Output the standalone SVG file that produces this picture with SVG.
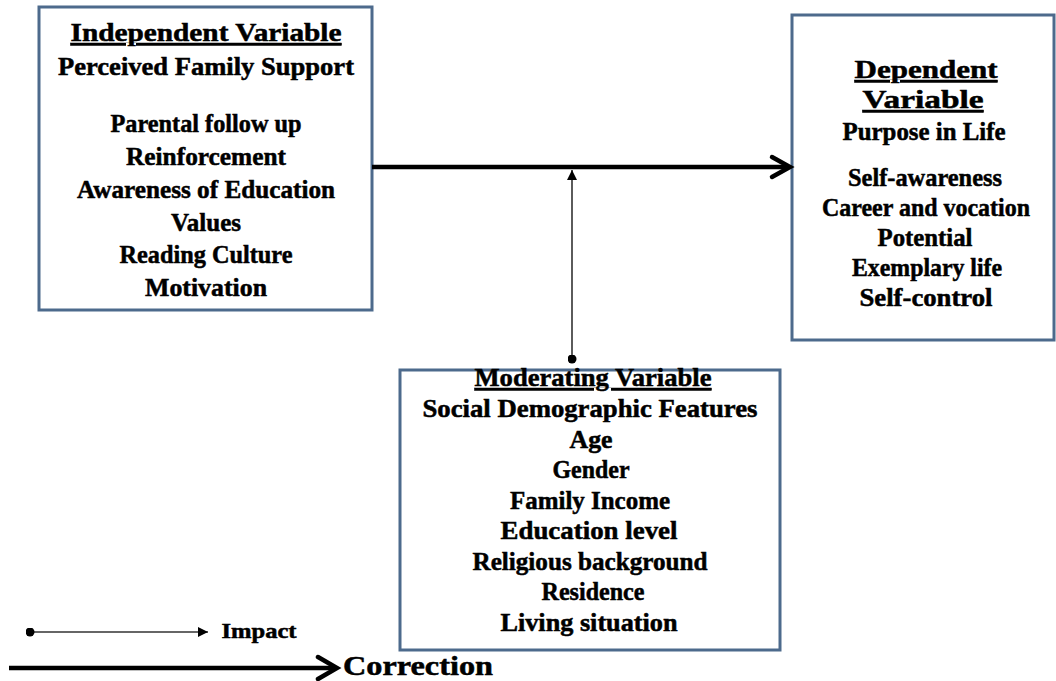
<svg xmlns="http://www.w3.org/2000/svg" width="1056" height="681" viewBox="0 0 1056 681">
<style>
.box{fill:#ffffff;stroke:#4d6a8c;stroke-width:3}
text{font-family:"Liberation Serif","Times New Roman",serif;font-weight:bold;font-size:25px;fill:#000;stroke:#000;stroke-width:0.5;text-anchor:middle}
.u{text-decoration:underline}
.thick{stroke:#000;stroke-width:4.5;fill:none}
.thin{stroke:#333;stroke-width:1.6;fill:none}
.chev{stroke:#000;stroke-width:4.5;fill:none;stroke-linecap:round;stroke-linejoin:miter}
</style>
<defs>
<marker id="tri" viewBox="0 0 10 10" refX="10" refY="5" markerWidth="10" markerHeight="10" markerUnits="userSpaceOnUse" orient="auto">
<path d="M0,0 L10,5 L0,10 Z" fill="#000"/>
</marker>
<marker id="dot" viewBox="0 0 10 10" refX="5" refY="5" markerWidth="9" markerHeight="9" markerUnits="userSpaceOnUse" orient="auto">
<circle cx="5" cy="5" r="5" fill="#000"/>
</marker>
</defs>
<rect width="1056" height="681" fill="#ffffff"/>

<g id="independent">
<rect class="box" x="39" y="7" width="333" height="303"/>
<text x="206" y="41" class="u" textLength="271" lengthAdjust="spacingAndGlyphs">Independent Variable</text>
<text x="206" y="75" textLength="296" lengthAdjust="spacingAndGlyphs">Perceived Family Support</text>
<text x="206" y="132" textLength="191" lengthAdjust="spacingAndGlyphs">Parental follow up</text>
<text x="206" y="165" textLength="160" lengthAdjust="spacingAndGlyphs">Reinforcement</text>
<text x="206" y="198" textLength="258" lengthAdjust="spacingAndGlyphs">Awareness of Education</text>
<text x="206" y="231" textLength="70" lengthAdjust="spacingAndGlyphs">Values</text>
<text x="206" y="263" textLength="173" lengthAdjust="spacingAndGlyphs">Reading Culture</text>
<text x="206" y="296" textLength="122" lengthAdjust="spacingAndGlyphs">Motivation</text>
</g>

<g id="dependent">
<rect class="box" x="792" y="15" width="262" height="325"/>
<text x="926" y="78" class="u" textLength="143" lengthAdjust="spacingAndGlyphs">Dependent</text>
<text x="923" y="108" class="u" textLength="121" lengthAdjust="spacingAndGlyphs">Variable</text>
<text x="924" y="140" textLength="163" lengthAdjust="spacingAndGlyphs">Purpose in Life</text>
<text x="925" y="186" textLength="154" lengthAdjust="spacingAndGlyphs">Self-awareness</text>
<text x="926" y="216" textLength="208" lengthAdjust="spacingAndGlyphs">Career and vocation</text>
<text x="925" y="246" textLength="95" lengthAdjust="spacingAndGlyphs">Potential</text>
<text x="927" y="276" textLength="150" lengthAdjust="spacingAndGlyphs">Exemplary life</text>
<text x="926" y="306" textLength="133" lengthAdjust="spacingAndGlyphs">Self-control</text>
</g>

<g id="moderating">
<rect class="box" x="400" y="370" width="380" height="280"/>
<text x="593" y="386" class="u" textLength="237" lengthAdjust="spacingAndGlyphs">Moderating Variable</text>
<text x="590" y="417" textLength="335" lengthAdjust="spacingAndGlyphs">Social Demographic Features</text>
<text x="591" y="448" textLength="43" lengthAdjust="spacingAndGlyphs">Age</text>
<text x="591" y="478" textLength="77" lengthAdjust="spacingAndGlyphs">Gender</text>
<text x="590" y="509" textLength="160" lengthAdjust="spacingAndGlyphs">Family Income</text>
<text x="589" y="539" textLength="177" lengthAdjust="spacingAndGlyphs">Education level</text>
<text x="590" y="570" textLength="235" lengthAdjust="spacingAndGlyphs">Religious background</text>
<text x="593" y="600" textLength="103" lengthAdjust="spacingAndGlyphs">Residence</text>
<text x="589" y="631" textLength="177" lengthAdjust="spacingAndGlyphs">Living situation</text>
</g>

<g id="connectors">
<line class="thick" x1="372" y1="167" x2="789" y2="167"/>
<polyline class="chev" points="772,157 790,167 772,177"/>
<line class="thin" x1="572" y1="359" x2="572" y2="170" marker-start="url(#dot)" marker-end="url(#tri)"/>
</g>

<g id="legend">
<line class="thin" x1="30" y1="632" x2="208" y2="632" marker-start="url(#dot)" marker-end="url(#tri)"/>
<text x="259" y="638" style="font-size:21px" textLength="75" lengthAdjust="spacingAndGlyphs">Impact</text>
<line class="thick" x1="9" y1="668" x2="336" y2="668"/>
<polyline class="chev" points="318,657 337,668 318,679"/>
<text x="418" y="675" style="font-size:27px" textLength="150" lengthAdjust="spacingAndGlyphs">Correction</text>
</g>
</svg>
